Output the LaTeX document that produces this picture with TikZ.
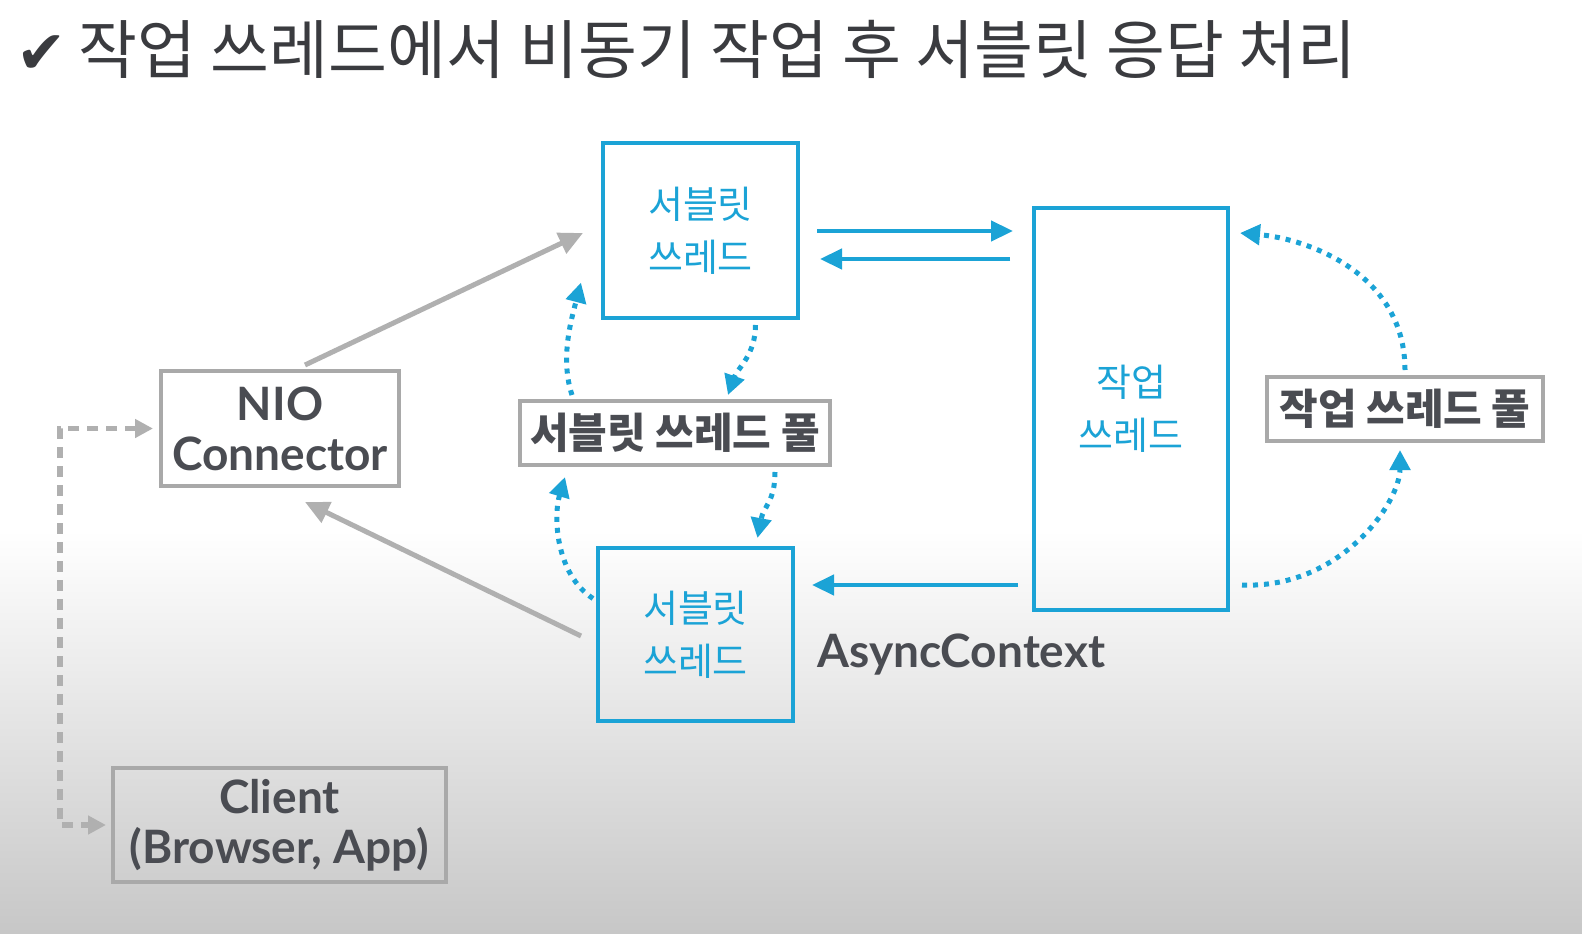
\documentclass[tikz,border=0pt]{standalone}
\usepackage{fontspec}
\usetikzlibrary{arrows.meta,calc}
\newfontfamily\kr{Noto Sans CJK KR}
\newfontfamily\djv{DejaVu Sans}
\newfontfamily\lat{Lato}
\definecolor{cblue}{HTML}{1BA3D6}
\definecolor{gbord}{HTML}{A9A9A9}
\definecolor{gtext}{HTML}{4A4C52}
\definecolor{garrow}{HTML}{B0B0B0}
\definecolor{ttext}{HTML}{3A3B3F}
\tikzset{
  bluebox/.style={draw=cblue,line width=4pt,inner sep=0pt,align=center,text=cblue,
    font=\kr\fontsize{38}{53}\selectfont},
  graybox/.style={draw=gbord,line width=4pt,inner sep=0pt,align=center,text=gtext},
  poolfont/.style={font=\kr\bfseries\fontsize{42}{50}\selectfont},
  latfont/.style={font=\lat\bfseries\fontsize{46}{50}\selectfont},
  barrow/.style={draw=cblue,line width=4.5pt,-{Triangle[length=22pt,width=20pt]}},
  garr/.style={draw=garrow,line width=5pt,-{Triangle[length=24pt,width=22pt]}},
  gdash/.style={draw=garrow,line width=5.5pt,dash pattern=on 11pt off 8pt,
    {Triangle[length=18pt,width=18pt]}-{Triangle[length=18pt,width=18pt]}},
  bdot/.style={draw=cblue,line width=5pt,dash pattern=on 5pt off 6pt,
    -{Triangle[length=20pt,width=20pt]}}
}
\begin{document}
\begin{tikzpicture}[x=1pt,y=-1pt]
\useasboundingbox (0,0) rectangle (1582,934);
\fill[white] (0,0) rectangle (1582,934);
\shade[top color=white,bottom color=black!22] (0,530) rectangle (1582,934);

% title
\node[anchor=west,inner sep=0pt,text=ttext] (title) at (16,49)
  {{\djv\fontsize{60}{60}\selectfont ✔}\hspace{12pt}{\kr\fontsize{64}{66}\selectfont 작업 쓰레드에서 비동기 작업 후 서블릿 응답 처리}};

% boxes
\node[bluebox,minimum width=195pt,minimum height=175pt] (sa) at (700.5,230.5) {서블릿\\쓰레드};
\node[bluebox,minimum width=195pt,minimum height=173pt] (sb) at (695.5,634.5) {서블릿\\쓰레드};
\node[bluebox,minimum width=194pt,minimum height=402pt] (wt) at (1131,409) {작업\\쓰레드};
\node[graybox,poolfont,minimum width=310pt,minimum height=64pt] (sp) at (675,433) {서블릿 쓰레드 풀};
\node[graybox,poolfont,minimum width=276pt,minimum height=64pt] (wp) at (1405,409) {작업 쓰레드 풀};
\node[graybox,latfont,minimum width=238pt,minimum height=115pt] (nio) at (280,428.5) {NIO\\Connector};
\node[graybox,latfont,minimum width=333pt,minimum height=114pt] (cl) at (279.5,825) {Client\\(Browser, App)};
\node[latfont,text=gtext,anchor=west,inner sep=0pt] (ac) at (817,655) {AsyncContext};

% solid blue arrows
\draw[barrow] ($(sa.east)+(17,0.5)$) -- ($(wt.west|-sa.east)+(-19,0.5)$);
\draw[barrow] ($(wt.west|-sa.east)+(-22,28.5)$) -- ($(sa.east)+(20,28.5)$);
\draw[barrow] ($(wt.west|-sb.east)+(-14,-49.5)$) -- ($(sb.east)+(17,-49.5)$);

% gray arrows
\draw[garr] ($(nio.north)+(25,-4)$) -- ($(sa.west)+(-18,2.5)$);
\draw[garr] ($(sb.west)+(-15,1.5)$) -- ($(nio.south)+(25,14)$);
\draw[gdash] ($(nio.west)+(-6,0)$) -| ($(cl.west)+(-51,0)$) -- ($(cl.west)+(-5,0)$);

% dotted blue curves
\draw[bdot] ($(sa.south)+(55,5)$) .. controls ($(sa.south)+(55,35)$) and ($(sp.north)+(62,-30)$) .. ($(sp.north)+(53,-4)$);
\draw[bdot] ($(sp.north)+(-103,-4)$) .. controls ($(sp.north)+(-115,-40)$) and ($(sa.west)+(-30,90)$) .. ($(sa.west)+(-20,52)$);
\draw[bdot] ($(sp.south)+(100,5)$) .. controls ($(sp.south)+(100,35)$) and ($(sb.north)+(68,-40)$) .. ($(sb.north)+(62,-8)$);
\draw[bdot] ($(sb.west)+(-3,-36)$) .. controls ($(sb.west)+(-40,-60)$) and ($(sp.south)+(-122,50)$) .. ($(sp.south)+(-110,10)$);
\draw[bdot] ($(wp.north)+(0,-5)$) .. controls ($(wp.north)+(0,-100)$) and ($(wt.east)+(80,-170)$) .. ($(wt.east)+(10,-176)$);
\draw[bdot] ($(wt.east)+(12,176)$) .. controls ($(wt.east)+(110,180)$) and ($(wp.south)+(-5,60)$) .. ($(wp.south)+(-5,7)$);
\end{tikzpicture}
\end{document}
